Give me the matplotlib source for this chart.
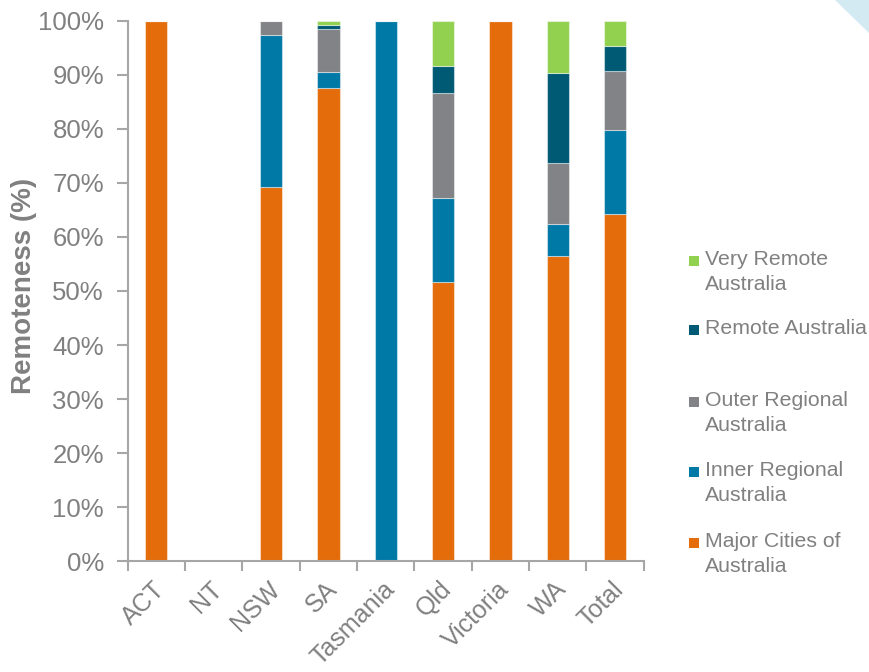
import numpy as np
import matplotlib
matplotlib.use('Agg')
import matplotlib.pyplot as plt
import matplotlib.transforms as mtransforms
from matplotlib.patches import Rectangle, Polygon

categories = ['ACT', 'NT', 'NSW', 'SA', 'Tasmania', 'Qld', 'Victoria', 'WA', 'Total']
major_cities = [100, 0, 69.3, 87.5, 0, 51.6, 100, 56.4, 64.3]
inner_regional = [0, 0, 28.1, 3.0, 100, 15.6, 0, 6.0, 15.5]
outer_regional = [0, 0, 2.6, 7.9, 0, 19.5, 0, 11.3, 11.0]
remote = [0, 0, 0, 0.9, 0, 5.0, 0, 16.7, 4.5]
very_remote = [0, 0, 0, 0.7, 0, 8.3, 0, 9.6, 4.7]

series = [
    ('Major Cities of\nAustralia', major_cities, '#E46C0A'),
    ('Inner Regional\nAustralia', inner_regional, '#0079A6'),
    ('Outer Regional\nAustralia', outer_regional, '#828387'),
    ('Remote Australia', remote, '#005A74'),
    ('Very Remote\nAustralia', very_remote, '#92D050'),
]

plt.rcParams['font.family'] = ['Liberation Sans', 'DejaVu Sans']
grey = '#808080'

fig = plt.figure(figsize=(8.7, 6.72), dpi=100)
ax = fig.add_axes([0.1467, 0.165, 0.5933, 0.804])

# light blue corner decoration
fig.patches.append(Polygon([(835 / 870, 1), (1, 1), (1, 1 - 34 / 672)], closed=True,
                           transform=fig.transFigure, facecolor='#D3EAF2', edgecolor='none'))

x = np.arange(len(categories))
bottom = np.zeros(len(categories))
for label, vals, color in series:
    vals = np.array(vals, dtype=float)
    ax.bar(x, vals, width=0.39, bottom=bottom, color=color,
           edgecolor=(1, 1, 1, 0.45), linewidth=0.8)
    bottom += vals

ax.set_xlim(-0.5, len(categories) - 0.5)
ax.set_ylim(0, 100)
ax.set_yticks(np.arange(0, 101, 10))
ax.set_yticklabels([f'{v}%' for v in range(0, 101, 10)])

# ticks sit between the bars, labels are placed under each bar
ax.set_xticks(np.arange(len(categories) + 1) - 0.5)
ax.set_xticklabels([])
shift = mtransforms.ScaledTranslation(-3.5 / 100, -16 / 100, fig.dpi_scale_trans)
for i, name in enumerate(categories):
    ax.text(i, 0, name, transform=ax.get_xaxis_transform() + shift, rotation=45,
            rotation_mode='anchor', ha='right', va='top', fontsize=18, color=grey)

for s in ['top', 'right']:
    ax.spines[s].set_visible(False)
for s in ['left', 'bottom']:
    ax.spines[s].set_color('#A6A6A6')
    ax.spines[s].set_linewidth(1.5)

ax.tick_params(axis='y', which='major', length=8, width=1.5, color='#A6A6A6',
               labelsize=18.5, labelcolor=grey, pad=9)
ax.tick_params(axis='x', which='major', length=7, width=1.5, color='#A6A6A6')

ax.set_ylabel('Remoteness (%)', fontsize=20, fontweight='bold', color=grey)
ax.yaxis.set_label_coords(-0.175, 0.51)

# legend drawn by hand, top entry first
legend_y = [261, 330, 402, 472, 543]
for (label, vals, color), yp in zip(series[::-1], legend_y):
    fig.patches.append(Rectangle((689 / 870, 1 - (yp + 5) / 672), 10 / 870, 10 / 672,
                                 transform=fig.transFigure, facecolor=color, edgecolor='none'))
    fig.text(705 / 870, 1 - (yp - 11) / 672, label, fontsize=15.3, color=grey,
             ha='left', va='top', linespacing=1.38)

fig.savefig('out.png', dpi=100)
